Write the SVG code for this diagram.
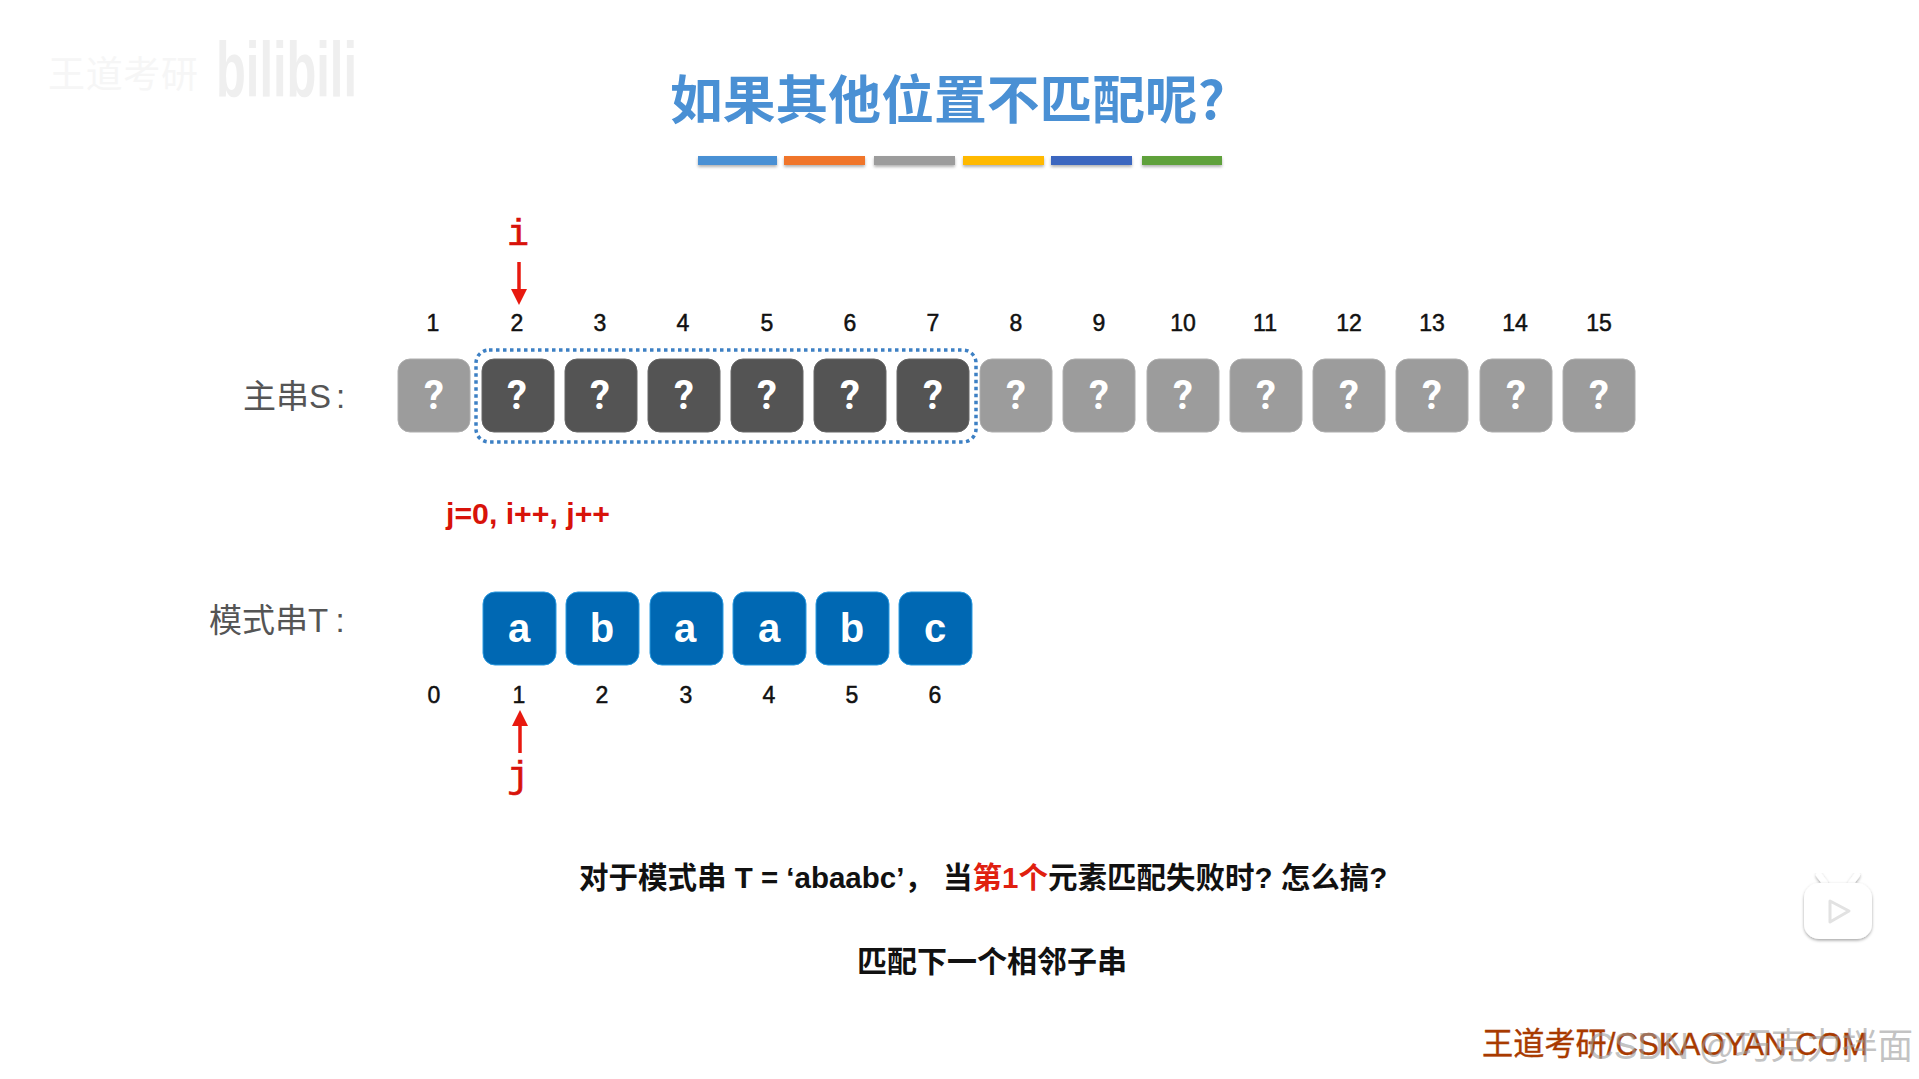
<svg xmlns="http://www.w3.org/2000/svg" width="1919" height="1079" viewBox="0 0 1919 1079">
<style>
text{font-family:"Liberation Sans","Noto Sans CJK SC",sans-serif}
.cjk{font-family:"Noto Sans CJK SC","Liberation Sans",sans-serif}
.num{font-size:23px;fill:#111;text-anchor:middle;stroke:#111;stroke-width:.5}
.q{font-family:Roboto,"Liberation Sans",sans-serif;font-size:40px;font-weight:700;fill:#fff;text-anchor:middle}
.l{font-size:40px;font-weight:700;fill:#fff;text-anchor:middle}
.g{fill:#9c9c9c;stroke:#aeaeae;stroke-width:1}
.d{fill:#545454;stroke:#666;stroke-width:1}
.b{fill:#0068b3;stroke:#2a9ae0;stroke-width:1}
.lab{font-size:33px;fill:#555}
.ptr{font-family:"Liberation Mono",monospace;font-size:36px;fill:#d8120a;stroke:#d8120a;stroke-width:.7;text-anchor:middle}
.arrow{stroke:#e8190f;stroke-width:3.5;fill:none;marker-end:url(#head)}
.msg{font-size:29.5px;font-weight:700;fill:#111}
</style>
<defs>
<marker id="head" markerUnits="userSpaceOnUse" markerWidth="18" markerHeight="17" refX="1" refY="8.5" orient="auto"><path d="M0 0.5L16 8.5L0 16.5Z" fill="#e8190f"/></marker>
<filter id="sh" x="-10%" y="-40%" width="120%" height="200%"><feDropShadow dx="0" dy="2" stdDeviation="1.5" flood-color="#000" flood-opacity=".3"/></filter>
<filter id="sh2" x="-20%" y="-20%" width="140%" height="140%"><feDropShadow dx="0" dy="1.5" stdDeviation="1.5" flood-color="#000" flood-opacity=".35"/></filter>
</defs>
<rect width="1919" height="1079" fill="#fff"/>
<g id="watermark-top">
<text class="cjk" x="48" y="88" font-size="37" fill="#f6f6f6" textLength="150">王道考研</text>
<text x="216" y="97" font-size="78" font-weight="700" fill="#efefef" textLength="141" lengthAdjust="spacingAndGlyphs">bilibili</text>
</g>
<g id="title">
<text class="cjk" x="670" y="119" font-size="52" font-weight="700" fill="#4a90d4" textLength="555" lengthAdjust="spacingAndGlyphs">如果其他位置不匹配呢?</text>
<g filter="url(#sh)">
<rect x="698" y="156" width="79" height="9" fill="#4a90d4"/>
<rect x="784" y="156" width="81" height="9" fill="#f0752c"/>
<rect x="874" y="156" width="81" height="9" fill="#9c9c9c"/>
<rect x="963" y="156" width="81" height="9" fill="#ffb900"/>
<rect x="1051" y="156" width="81" height="9" fill="#3a66bf"/>
<rect x="1142" y="156" width="80" height="9" fill="#5fa13a"/>
</g>
</g>
<g id="label-s"><text class="lab" x="243" y="408">主串S<tspan dx="5">:</tspan></text></g>
<g id="label-t"><text class="lab" x="209" y="632">模式串T<tspan dx="11">:</tspan></text></g>
<g id="s-indices">
<text class="num" x="433" y="331">1</text><text class="num" x="517" y="331">2</text><text class="num" x="600" y="331">3</text><text class="num" x="683" y="331">4</text><text class="num" x="767" y="331">5</text><text class="num" x="850" y="331">6</text><text class="num" x="933" y="331">7</text><text class="num" x="1016" y="331">8</text><text class="num" x="1099" y="331">9</text><text class="num" x="1183" y="331">10</text><text class="num" x="1265" y="331">11</text><text class="num" x="1349" y="331">12</text><text class="num" x="1432" y="331">13</text><text class="num" x="1515" y="331">14</text><text class="num" x="1599" y="331">15</text>
</g>
<g id="s1"><rect class="g" x="398" y="359" width="72" height="73" rx="12"/><text class="q" x="434" y="409">?</text></g>
<g id="s2"><rect class="d" x="482" y="359" width="72" height="73" rx="12"/><text class="q" x="517" y="409">?</text></g>
<g id="s3"><rect class="d" x="565" y="359" width="72" height="73" rx="12"/><text class="q" x="600" y="409">?</text></g>
<g id="s4"><rect class="d" x="648" y="359" width="72" height="73" rx="12"/><text class="q" x="684" y="409">?</text></g>
<g id="s5"><rect class="d" x="731" y="359" width="72" height="73" rx="12"/><text class="q" x="767" y="409">?</text></g>
<g id="s6"><rect class="d" x="814" y="359" width="72" height="73" rx="12"/><text class="q" x="850" y="409">?</text></g>
<g id="s7"><rect class="d" x="897" y="359" width="72" height="73" rx="12"/><text class="q" x="933" y="409">?</text></g>
<g id="s8"><rect class="g" x="980" y="359" width="72" height="73" rx="12"/><text class="q" x="1016" y="409">?</text></g>
<g id="s9"><rect class="g" x="1063" y="359" width="72" height="73" rx="12"/><text class="q" x="1099" y="409">?</text></g>
<g id="s10"><rect class="g" x="1147" y="359" width="72" height="73" rx="12"/><text class="q" x="1183" y="409">?</text></g>
<g id="s11"><rect class="g" x="1230" y="359" width="72" height="73" rx="12"/><text class="q" x="1266" y="409">?</text></g>
<g id="s12"><rect class="g" x="1313" y="359" width="72" height="73" rx="12"/><text class="q" x="1349" y="409">?</text></g>
<g id="s13"><rect class="g" x="1396" y="359" width="72" height="73" rx="12"/><text class="q" x="1432" y="409">?</text></g>
<g id="s14"><rect class="g" x="1480" y="359" width="72" height="73" rx="12"/><text class="q" x="1516" y="409">?</text></g>
<g id="s15"><rect class="g" x="1563" y="359" width="72" height="73" rx="12"/><text class="q" x="1599" y="409">?</text></g>
<g id="window"><rect x="476" y="350" width="500" height="92" rx="13" fill="none" stroke="#3d80c4" stroke-width="3.5" stroke-dasharray="3.5 3.5"/></g>
<g id="t0"><rect class="b" x="483" y="592" width="73" height="73" rx="12"/><text class="l" x="519" y="642">a</text></g>
<g id="t1"><rect class="b" x="566" y="592" width="73" height="73" rx="12"/><text class="l" x="602" y="642">b</text></g>
<g id="t2"><rect class="b" x="650" y="592" width="73" height="73" rx="12"/><text class="l" x="685" y="642">a</text></g>
<g id="t3"><rect class="b" x="733" y="592" width="73" height="73" rx="12"/><text class="l" x="769" y="642">a</text></g>
<g id="t4"><rect class="b" x="816" y="592" width="73" height="73" rx="12"/><text class="l" x="852" y="642">b</text></g>
<g id="t5"><rect class="b" x="899" y="592" width="73" height="73" rx="12"/><text class="l" x="935" y="642">c</text></g>
<g id="t-indices">
<text class="num" x="434" y="703">0</text><text class="num" x="519" y="703">1</text><text class="num" x="602" y="703">2</text><text class="num" x="686" y="703">3</text><text class="num" x="769" y="703">4</text><text class="num" x="852" y="703">5</text><text class="num" x="935" y="703">6</text>
</g>
<g id="connectors">
<line class="arrow" x1="519" y1="262" x2="519" y2="290"/>
<line class="arrow" x1="520" y1="753" x2="520" y2="725"/>
</g>
<g id="pointer-i"><text class="ptr" x="518" y="245">i</text></g>
<g id="pointer-j"><text class="ptr" x="518" y="787">j</text></g>
<g id="note"><text x="446" y="524" font-size="30" font-weight="700" fill="#d8120a" textLength="164" lengthAdjust="spacingAndGlyphs">j=0, i++, j++</text></g>
<g id="question"><text class="msg" x="579" y="888">对于模式串 T = ‘abaabc’，<tspan x="943">当</tspan><tspan fill="#e0200f">第1个</tspan>元素匹配失败时? 怎么搞?</text></g>
<g id="answer"><text class="msg" x="857" y="972" style="font-size:30px">匹配下一个相邻子串</text></g>
<g id="tv-icon">
<path d="M1825 883L1819 875M1851 883L1857 875" stroke="#fff" stroke-width="6" stroke-linecap="round" filter="url(#sh2)"/>
<rect x="1804" y="883" width="68" height="56" rx="15" fill="#fff" filter="url(#sh2)"/>
<path d="M1830 901L1849 911L1830 922Z" fill="#fff" stroke="#e2e2e2" stroke-width="3" stroke-linejoin="round"/>
</g>
<g id="footer">
<text x="1482" y="1055" font-size="32" fill="#a83a00" stroke="#a83a00" stroke-width=".4" textLength="386" lengthAdjust="spacingAndGlyphs">王道考研/CSKAOYAN.COM</text>
<text x="1588" y="1059" font-size="36" fill="#9a9a9a" fill-opacity=".6" textLength="325" lengthAdjust="spacingAndGlyphs">CSDN @巧克力拌面</text>
</g>
</svg>
